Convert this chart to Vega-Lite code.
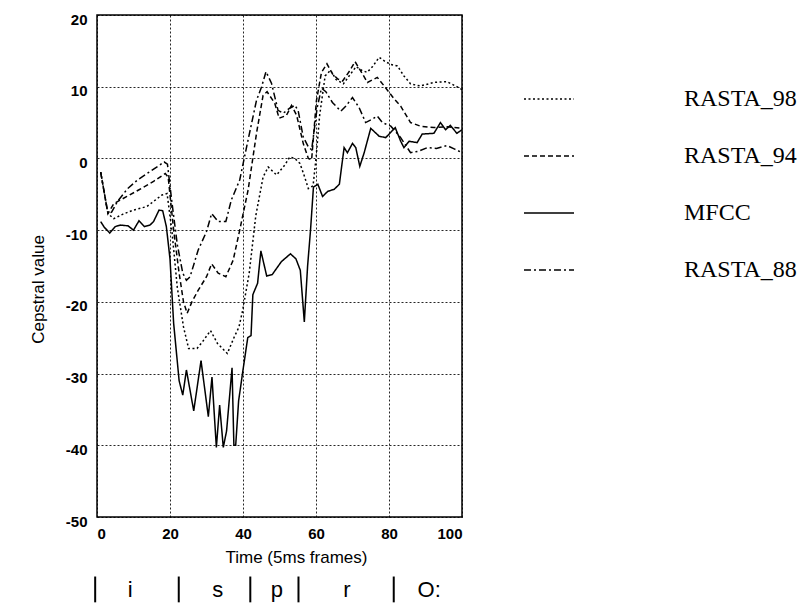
{
  "$schema": "https://vega.github.io/schema/vega-lite/v6.json",
  "autosize": {"type": "none"},
  "width": 365,
  "height": 502,
  "padding": {"left": 97, "top": 15, "right": 345, "bottom": 87},
  "background": "white",
  "config": {
    "view": {"stroke": "black", "strokeWidth": 1.5},
    "font": "Liberation Sans",
    "axis": {
      "grid": true,
      "gridColor": "black",
      "gridDash": [2, 2],
      "gridWidth": 1,
      "gridOpacity": 0.85,
      "domain": false,
      "ticks": false,
      "labelFont": "Liberation Sans",
      "labelFontSize": 15,
      "labelFontWeight": "bold",
      "labelColor": "black",
      "labelExpr": "toString(datum.value)",
      "titleFont": "Liberation Sans",
      "titleFontSize": 17,
      "titleFontWeight": "normal",
      "titleColor": "black"
    }
  },
  "datasets": {
    "series": [
      {"series": "MFCC", "t": 1, "v": -8.8}, {"series": "MFCC", "t": 2, "v": -9.6}, {"series": "MFCC", "t": 3.5, "v": -10.4}, {"series": "MFCC", "t": 5, "v": -9.5}, {"series": "MFCC", "t": 6.5, "v": -9.3}, {"series": "MFCC", "t": 8.5, "v": -9.4}, {"series": "MFCC", "t": 10, "v": -10}, {"series": "MFCC", "t": 11.5, "v": -8.7}, {"series": "MFCC", "t": 13, "v": -9.5}, {"series": "MFCC", "t": 14.5, "v": -9.3}, {"series": "MFCC", "t": 15.5, "v": -8.8}, {"series": "MFCC", "t": 17, "v": -7.2}, {"series": "MFCC", "t": 18, "v": -7.3}, {"series": "MFCC", "t": 19, "v": -9.5}, {"series": "MFCC", "t": 20, "v": -14}, {"series": "MFCC", "t": 21, "v": -23}, {"series": "MFCC", "t": 22.5, "v": -31}, {"series": "MFCC", "t": 23.5, "v": -33}, {"series": "MFCC", "t": 24.5, "v": -29.5}, {"series": "MFCC", "t": 26.5, "v": -35.2}, {"series": "MFCC", "t": 28.5, "v": -28.2}, {"series": "MFCC", "t": 30.5, "v": -36}, {"series": "MFCC", "t": 31.5, "v": -30.5}, {"series": "MFCC", "t": 32.7, "v": -40.3}, {"series": "MFCC", "t": 33.6, "v": -34.4}, {"series": "MFCC", "t": 34.6, "v": -40.3}, {"series": "MFCC", "t": 35.5, "v": -38}, {"series": "MFCC", "t": 37, "v": -29.2}, {"series": "MFCC", "t": 37.5, "v": -40}, {"series": "MFCC", "t": 38, "v": -40}, {"series": "MFCC", "t": 38.8, "v": -33.8}, {"series": "MFCC", "t": 40, "v": -29.5}, {"series": "MFCC", "t": 41.3, "v": -25}, {"series": "MFCC", "t": 42.2, "v": -24.7}, {"series": "MFCC", "t": 42.7, "v": -19}, {"series": "MFCC", "t": 44, "v": -17.4}, {"series": "MFCC", "t": 44.9, "v": -12.9}, {"series": "MFCC", "t": 46.5, "v": -16.4}, {"series": "MFCC", "t": 48, "v": -16.2}, {"series": "MFCC", "t": 50.5, "v": -14.4}, {"series": "MFCC", "t": 53, "v": -13.3}, {"series": "MFCC", "t": 54.5, "v": -14}, {"series": "MFCC", "t": 55.7, "v": -15.6}, {"series": "MFCC", "t": 56.8, "v": -22.8}, {"series": "MFCC", "t": 57.7, "v": -15}, {"series": "MFCC", "t": 58.5, "v": -10}, {"series": "MFCC", "t": 59.3, "v": -4}, {"series": "MFCC", "t": 60.5, "v": -3.6}, {"series": "MFCC", "t": 61.8, "v": -5.3}, {"series": "MFCC", "t": 63.2, "v": -4.6}, {"series": "MFCC", "t": 65, "v": -4.3}, {"series": "MFCC", "t": 66.4, "v": -3.6}, {"series": "MFCC", "t": 67.7, "v": 1.5}, {"series": "MFCC", "t": 68.6, "v": 0.8}, {"series": "MFCC", "t": 70, "v": 2.1}, {"series": "MFCC", "t": 70.9, "v": 1.5}, {"series": "MFCC", "t": 72, "v": -1.1}, {"series": "MFCC", "t": 73.2, "v": 0.8}, {"series": "MFCC", "t": 75, "v": 4.2}, {"series": "MFCC", "t": 77.3, "v": 3.1}, {"series": "MFCC", "t": 79.1, "v": 2.9}, {"series": "MFCC", "t": 81.7, "v": 4.3}, {"series": "MFCC", "t": 83.2, "v": 2.4}, {"series": "MFCC", "t": 84.1, "v": 1.5}, {"series": "MFCC", "t": 85.5, "v": 2.4}, {"series": "MFCC", "t": 87.7, "v": 2.2}, {"series": "MFCC", "t": 89.1, "v": 3.4}, {"series": "MFCC", "t": 92.3, "v": 3.5}, {"series": "MFCC", "t": 94.1, "v": 5}, {"series": "MFCC", "t": 95.5, "v": 4}, {"series": "MFCC", "t": 96.8, "v": 4.6}, {"series": "MFCC", "t": 98.6, "v": 3.5}, {"series": "MFCC", "t": 100, "v": 4},

      {"series": "RASTA_88", "t": 1, "v": -1.9}, {"series": "RASTA_88", "t": 3, "v": -7.7}, {"series": "RASTA_88", "t": 4, "v": -7.5}, {"series": "RASTA_88", "t": 5.6, "v": -6}, {"series": "RASTA_88", "t": 8.4, "v": -4.2}, {"series": "RASTA_88", "t": 11.1, "v": -3}, {"series": "RASTA_88", "t": 15.2, "v": -1.6}, {"series": "RASTA_88", "t": 18.4, "v": -0.5}, {"series": "RASTA_88", "t": 19.3, "v": -0.8}, {"series": "RASTA_88", "t": 20.5, "v": -6}, {"series": "RASTA_88", "t": 22, "v": -12}, {"series": "RASTA_88", "t": 23.5, "v": -16}, {"series": "RASTA_88", "t": 24.5, "v": -17}, {"series": "RASTA_88", "t": 25.5, "v": -16.5}, {"series": "RASTA_88", "t": 27.7, "v": -12.8}, {"series": "RASTA_88", "t": 30, "v": -10.2}, {"series": "RASTA_88", "t": 31.4, "v": -7.7}, {"series": "RASTA_88", "t": 33.2, "v": -8.8}, {"series": "RASTA_88", "t": 35.3, "v": -8.8}, {"series": "RASTA_88", "t": 36.8, "v": -5.8}, {"series": "RASTA_88", "t": 39.1, "v": -3}, {"series": "RASTA_88", "t": 41.4, "v": 2.6}, {"series": "RASTA_88", "t": 43.7, "v": 8.1}, {"series": "RASTA_88", "t": 45.1, "v": 10}, {"series": "RASTA_88", "t": 46.3, "v": 12.1}, {"series": "RASTA_88", "t": 47.8, "v": 10.5}, {"series": "RASTA_88", "t": 49.6, "v": 6.7}, {"series": "RASTA_88", "t": 51, "v": 6.3}, {"series": "RASTA_88", "t": 52.8, "v": 7}, {"series": "RASTA_88", "t": 54.2, "v": 7.4}, {"series": "RASTA_88", "t": 55.1, "v": 6.7}, {"series": "RASTA_88", "t": 56.5, "v": 3}, {"series": "RASTA_88", "t": 57.9, "v": 1.6}, {"series": "RASTA_88", "t": 58.8, "v": 1.2}, {"series": "RASTA_88", "t": 60.3, "v": 7}, {"series": "RASTA_88", "t": 61.5, "v": 9.8}, {"series": "RASTA_88", "t": 62.7, "v": 9.3}, {"series": "RASTA_88", "t": 64.5, "v": 7.8}, {"series": "RASTA_88", "t": 66.8, "v": 6.6}, {"series": "RASTA_88", "t": 68.2, "v": 7.3}, {"series": "RASTA_88", "t": 70, "v": 8.5}, {"series": "RASTA_88", "t": 71.8, "v": 7.1}, {"series": "RASTA_88", "t": 73.6, "v": 5}, {"series": "RASTA_88", "t": 75.5, "v": 5.5}, {"series": "RASTA_88", "t": 76.8, "v": 5.9}, {"series": "RASTA_88", "t": 78.2, "v": 5}, {"series": "RASTA_88", "t": 80.5, "v": 4.5}, {"series": "RASTA_88", "t": 83.2, "v": 2.9}, {"series": "RASTA_88", "t": 85.9, "v": 0.8}, {"series": "RASTA_88", "t": 88, "v": 1.0}, {"series": "RASTA_88", "t": 90.5, "v": 1.5}, {"series": "RASTA_88", "t": 93, "v": 1.4}, {"series": "RASTA_88", "t": 95.9, "v": 1.8}, {"series": "RASTA_88", "t": 98, "v": 1.3}, {"series": "RASTA_88", "t": 100, "v": 0.8},

      {"series": "RASTA_94", "t": 1, "v": -1.9}, {"series": "RASTA_94", "t": 3, "v": -7.7}, {"series": "RASTA_94", "t": 4.6, "v": -6.3}, {"series": "RASTA_94", "t": 8.2, "v": -5.3}, {"series": "RASTA_94", "t": 11.4, "v": -4.4}, {"series": "RASTA_94", "t": 15.5, "v": -3.2}, {"series": "RASTA_94", "t": 18.7, "v": -2.1}, {"series": "RASTA_94", "t": 19.5, "v": -2.6}, {"series": "RASTA_94", "t": 21, "v": -10}, {"series": "RASTA_94", "t": 22.5, "v": -16}, {"series": "RASTA_94", "t": 23.7, "v": -20}, {"series": "RASTA_94", "t": 24.7, "v": -21.6}, {"series": "RASTA_94", "t": 26, "v": -20}, {"series": "RASTA_94", "t": 27.7, "v": -18.4}, {"series": "RASTA_94", "t": 30, "v": -16.5}, {"series": "RASTA_94", "t": 31.4, "v": -14.7}, {"series": "RASTA_94", "t": 33.2, "v": -16}, {"series": "RASTA_94", "t": 35.3, "v": -16.5}, {"series": "RASTA_94", "t": 37.3, "v": -14.2}, {"series": "RASTA_94", "t": 39.1, "v": -10}, {"series": "RASTA_94", "t": 41.4, "v": -4.4}, {"series": "RASTA_94", "t": 43.7, "v": 3.5}, {"series": "RASTA_94", "t": 45.5, "v": 8.8}, {"series": "RASTA_94", "t": 46.6, "v": 9.3}, {"series": "RASTA_94", "t": 48.7, "v": 7.7}, {"series": "RASTA_94", "t": 49.9, "v": 5.6}, {"series": "RASTA_94", "t": 51.9, "v": 6}, {"series": "RASTA_94", "t": 53.3, "v": 7.4}, {"series": "RASTA_94", "t": 54.7, "v": 6}, {"series": "RASTA_94", "t": 56.5, "v": 2.1}, {"series": "RASTA_94", "t": 57.9, "v": 0}, {"series": "RASTA_94", "t": 58.8, "v": -0.2}, {"series": "RASTA_94", "t": 60.1, "v": 8}, {"series": "RASTA_94", "t": 61.5, "v": 12}, {"series": "RASTA_94", "t": 63, "v": 13.2}, {"series": "RASTA_94", "t": 64.5, "v": 11.8}, {"series": "RASTA_94", "t": 65.9, "v": 11.1}, {"series": "RASTA_94", "t": 67.3, "v": 10.8}, {"series": "RASTA_94", "t": 69.2, "v": 12.2}, {"series": "RASTA_94", "t": 70.7, "v": 13.5}, {"series": "RASTA_94", "t": 72.7, "v": 11.8}, {"series": "RASTA_94", "t": 74.1, "v": 10.6}, {"series": "RASTA_94", "t": 76.8, "v": 11.3}, {"series": "RASTA_94", "t": 79, "v": 9.9}, {"series": "RASTA_94", "t": 81.4, "v": 8.3}, {"series": "RASTA_94", "t": 83.2, "v": 7.3}, {"series": "RASTA_94", "t": 85.9, "v": 5}, {"series": "RASTA_94", "t": 88.6, "v": 4.5}, {"series": "RASTA_94", "t": 92.3, "v": 4.3}, {"series": "RASTA_94", "t": 96, "v": 4.4}, {"series": "RASTA_94", "t": 100, "v": 4.2},

      {"series": "RASTA_98", "t": 1, "v": -1.9}, {"series": "RASTA_98", "t": 3, "v": -7.7}, {"series": "RASTA_98", "t": 4.6, "v": -8.4}, {"series": "RASTA_98", "t": 7, "v": -7.8}, {"series": "RASTA_98", "t": 10, "v": -7.2}, {"series": "RASTA_98", "t": 13.7, "v": -6.7}, {"series": "RASTA_98", "t": 17.8, "v": -5.1}, {"series": "RASTA_98", "t": 19.2, "v": -4.9}, {"series": "RASTA_98", "t": 20.5, "v": -10}, {"series": "RASTA_98", "t": 22, "v": -18}, {"series": "RASTA_98", "t": 23.7, "v": -23.5}, {"series": "RASTA_98", "t": 25.1, "v": -26.5}, {"series": "RASTA_98", "t": 27.4, "v": -26.5}, {"series": "RASTA_98", "t": 29, "v": -25.5}, {"series": "RASTA_98", "t": 31.1, "v": -24}, {"series": "RASTA_98", "t": 33, "v": -25.8}, {"series": "RASTA_98", "t": 35.7, "v": -27.2}, {"series": "RASTA_98", "t": 37.6, "v": -24.9}, {"series": "RASTA_98", "t": 38.9, "v": -23.5}, {"series": "RASTA_98", "t": 39.9, "v": -21.2}, {"series": "RASTA_98", "t": 41.7, "v": -16}, {"series": "RASTA_98", "t": 43.5, "v": -8}, {"series": "RASTA_98", "t": 45.5, "v": -2.6}, {"series": "RASTA_98", "t": 46.9, "v": -1.2}, {"series": "RASTA_98", "t": 49.2, "v": -2.3}, {"series": "RASTA_98", "t": 51.5, "v": -0.9}, {"series": "RASTA_98", "t": 52.8, "v": 0.2}, {"series": "RASTA_98", "t": 54.2, "v": 0}, {"series": "RASTA_98", "t": 55.6, "v": -0.7}, {"series": "RASTA_98", "t": 56.9, "v": -2.6}, {"series": "RASTA_98", "t": 57.9, "v": -4.2}, {"series": "RASTA_98", "t": 59.2, "v": -3.8}, {"series": "RASTA_98", "t": 60, "v": 0}, {"series": "RASTA_98", "t": 61, "v": 6}, {"series": "RASTA_98", "t": 62.5, "v": 11.5}, {"series": "RASTA_98", "t": 64, "v": 12.3}, {"series": "RASTA_98", "t": 65.5, "v": 11}, {"series": "RASTA_98", "t": 67.5, "v": 10.4}, {"series": "RASTA_98", "t": 69.5, "v": 11.8}, {"series": "RASTA_98", "t": 71, "v": 12.8}, {"series": "RASTA_98", "t": 72.5, "v": 12.3}, {"series": "RASTA_98", "t": 74, "v": 12}, {"series": "RASTA_98", "t": 75.5, "v": 12.8}, {"series": "RASTA_98", "t": 77.3, "v": 14.1}, {"series": "RASTA_98", "t": 79, "v": 13.5}, {"series": "RASTA_98", "t": 80.5, "v": 13.1}, {"series": "RASTA_98", "t": 82.3, "v": 12.9}, {"series": "RASTA_98", "t": 84.1, "v": 11.5}, {"series": "RASTA_98", "t": 85.9, "v": 10.4}, {"series": "RASTA_98", "t": 88.6, "v": 10.1}, {"series": "RASTA_98", "t": 92.3, "v": 10.6}, {"series": "RASTA_98", "t": 95.9, "v": 10.7}, {"series": "RASTA_98", "t": 98.6, "v": 10}, {"series": "RASTA_98", "t": 100, "v": 9.6}
    ],
    "phonemes": [
      {"pos": 9.1, "ph": "i"},
      {"pos": 33.1, "ph": "s"},
      {"pos": 49.3, "ph": "p"},
      {"pos": 68.5, "ph": "r"},
      {"pos": 91, "ph": "O:"}
    ],
    "bounds": [
      {"pos": -0.5}, {"pos": 22.4}, {"pos": 42}, {"pos": 55.2}, {"pos": 81.3}
    ]
  },
  "layer": [
    {
      "data": {"name": "series"},
      "mark": {"type": "line", "color": "black", "strokeWidth": 1.5},
      "encoding": {
        "x": {
          "field": "t", "type": "quantitative",
          "scale": {"domain": [0, 100], "nice": false, "zero": false},
          "axis": {"values": [0, 10, 20, 30, 40, 50, 60, 70, 80, 90, 100], "title": "Time (5ms frames)", "labelPadding": 9, "titlePadding": 8, "titleX": 199}
        },
        "y": {
          "field": "v", "type": "quantitative",
          "scale": {"domain": [-50, 20], "nice": false, "zero": false},
          "axis": {"values": [-50, -40, -30, -20, -10, 0, 10, 20], "title": "Cepstral value", "labelPadding": 10, "labelOffset": 4, "titlePadding": 18, "titleY": 274}
        },
        "strokeDash": {
          "field": "series", "type": "nominal",
          "scale": {"domain": ["RASTA_98", "RASTA_94", "MFCC", "RASTA_88"], "range": [[2, 2.5], [5, 3], [1, 0], [7, 3, 2, 3]]},
          "legend": {
            "title": null,
            "orient": "none",
            "legendX": 426,
            "legendY": 58,
            "symbolType": "stroke",
            "symbolSize": 2500,
            "symbolStrokeWidth": 1.5,
            "symbolStrokeColor": "black",
            "labelFont": "Liberation Serif",
            "labelFontSize": 24,
            "labelColor": "black",
            "labelOffset": 109,
            "labelLimit": 0,
            "rowPadding": 19,
            "padding": 0
          }
        }
      }
    },
    {
      "data": {"name": "bounds"},
      "mark": {"type": "rule", "color": "black", "strokeWidth": 2},
      "encoding": {
        "x": {"field": "pos", "type": "quantitative"},
        "y": {"datum": -58.3},
        "y2": {"datum": -61.9}
      }
    },
    {
      "data": {"name": "phonemes"},
      "mark": {"type": "text", "font": "Liberation Sans", "fontSize": 22, "color": "black", "baseline": "alphabetic", "align": "center"},
      "encoding": {
        "x": {"field": "pos", "type": "quantitative"},
        "y": {"datum": -61.1},
        "text": {"field": "ph"}
      }
    }
  ]
}
